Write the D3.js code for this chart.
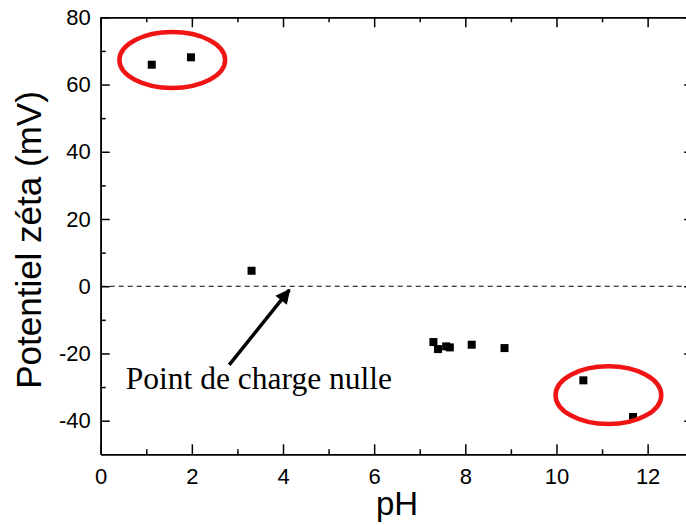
<!DOCTYPE html>
<html><head><meta charset="utf-8">
<script src="https://cdn.jsdelivr.net/npm/d3@7"></script>
<style>
html,body{margin:0;padding:0;background:#fff;overflow:hidden;}
svg{display:block;}
</style></head>
<body>
<svg id="chart" width="686" height="525"></svg>
<script>
// ---- data ----
const ph   = [1.12, 1.98, 3.31, 7.30, 7.40, 7.58, 7.66, 8.14, 8.86, 10.59, 11.68];
const zeta = [65.9, 68.1, 4.6, -16.6, -18.7, -17.9, -18.2, -17.4, -18.4, -28.0, -38.9];
const xTicks = [0, 2, 4, 6, 8, 10, 12];
const xMinor = [1, 3, 5, 7, 9, 11, 13];
const yTicks = [-40, -20, 0, 20, 40, 60, 80];
const yMinor = [-30, -10, 10, 30, 50, 70];
const circledGroups = [ {cx: 1.57, cy: 67.3, rx: 1.16, ry: 8.3}, {cx: 11.14, cy: -32.4, rx: 1.16, ry: 8.6} ];
const pzcLabel = "Point de charge nulle";
const pzcArrow = {x0: 2.82, y0: -23.4, x1: 4.14, y1: -1.1};
const pzcText = {x: 0.55, y: -30.5};
const xTitle = "pH";
const yTitle = "Potentiel zéta (mV)";

// ---- layout ----
const svg = d3.select("#chart");
const L = 100.7, T = 17.3, R = 693.2, B = 454.3;
const x = d3.scaleLinear().domain([0, 13]).range([L, R]);
const y = d3.scaleLinear().domain([-50, 80]).range([B, T]);
const sans = "'Liberation Sans', Arial, sans-serif";
const fmt = d => String(d);

// dashed zero line
svg.append("line")
  .attr("x1", x(0)).attr("x2", x(13))
  .attr("y1", y(0)).attr("y2", y(0))
  .attr("stroke", "#000").attr("stroke-width", 1.1)
  .attr("stroke-dasharray", "5,4");

function styleAxis(g, showText) {
  g.select(".domain").attr("stroke", "#000").attr("stroke-width", 1.6);
  g.selectAll(".tick line").attr("stroke", "#000").attr("stroke-width", 1.5);
  g.selectAll("text").attr("fill", "#000")
    .style("font-family", sans).style("font-size", "22px");
  if (!showText) g.selectAll("text").remove();
}

// bottom
const gB = svg.append("g").attr("transform", `translate(0,${B})`)
  .call(d3.axisBottom(x).tickValues(xTicks).tickSize(-10).tickSizeOuter(0).tickPadding(14).tickFormat(fmt));
styleAxis(gB, true);
const gBm = svg.append("g").attr("transform", `translate(0,${B})`)
  .call(d3.axisBottom(x).tickValues(xMinor).tickSize(-5).tickSizeOuter(0).tickFormat(""));
styleAxis(gBm, false);
// top
const gT = svg.append("g").attr("transform", `translate(0,${T})`)
  .call(d3.axisTop(x).tickValues(xTicks).tickSize(-10).tickSizeOuter(0).tickFormat(""));
styleAxis(gT, false);
const gTm = svg.append("g").attr("transform", `translate(0,${T})`)
  .call(d3.axisTop(x).tickValues(xMinor).tickSize(-5).tickSizeOuter(0).tickFormat(""));
styleAxis(gTm, false);
// left
const gL = svg.append("g").attr("transform", `translate(${L},0)`)
  .call(d3.axisLeft(y).tickValues(yTicks).tickSize(-9).tickSizeOuter(0).tickPadding(10).tickFormat(fmt));
styleAxis(gL, true);
const gLm = svg.append("g").attr("transform", `translate(${L},0)`)
  .call(d3.axisLeft(y).tickValues(yMinor).tickSize(-5).tickSizeOuter(0).tickFormat(""));
styleAxis(gLm, false);
// right
const gR = svg.append("g").attr("transform", `translate(${R},0)`)
  .call(d3.axisRight(y).tickValues(yTicks).tickSize(-9).tickSizeOuter(0).tickFormat(""));
styleAxis(gR, false);
const gRm = svg.append("g").attr("transform", `translate(${R},0)`)
  .call(d3.axisRight(y).tickValues(yMinor).tickSize(-5).tickSizeOuter(0).tickFormat(""));
styleAxis(gRm, false);

// titles
svg.append("text").attr("x", 397).attr("y", 515)
  .attr("text-anchor", "middle").style("font-family", sans).style("font-size", "33px")
  .text(xTitle);
svg.append("text").attr("transform", "translate(41,240) rotate(-90)")
  .attr("text-anchor", "middle").style("font-family", sans).style("font-size", "35px")
  .text(yTitle);

// points
const pts = ph.map((v, i) => ({x: v, y: zeta[i]}));
const s = 8;
svg.append("g").selectAll("rect").data(pts).join("rect")
  .attr("x", d => x(d.x) - s / 2).attr("y", d => y(d.y) - s / 2)
  .attr("width", s).attr("height", s).attr("fill", "#000");

// red ellipses
svg.append("g").selectAll("ellipse").data(circledGroups).join("ellipse")
  .attr("cx", d => x(d.cx)).attr("cy", d => y(d.cy))
  .attr("rx", d => x(d.cx + d.rx) - x(d.cx)).attr("ry", d => y(d.cy - d.ry) - y(d.cy))
  .attr("fill", "none").attr("stroke", "#f01414").attr("stroke-width", 4.5);

// arrow
svg.append("defs").append("marker")
  .attr("id", "ah").attr("viewBox", "0 0 10 10").attr("refX", 9).attr("refY", 5)
  .attr("markerWidth", 4.5).attr("markerHeight", 4.2).attr("markerUnits", "strokeWidth")
  .attr("orient", "auto")
  .append("path").attr("d", "M0,0 L10,5 L0,10 Z").attr("fill", "#000");
svg.append("line")
  .attr("x1", x(pzcArrow.x0)).attr("y1", y(pzcArrow.y0))
  .attr("x2", x(pzcArrow.x1)).attr("y2", y(pzcArrow.y1))
  .attr("stroke", "#000").attr("stroke-width", 3.5).attr("marker-end", "url(#ah)");

svg.append("text").attr("x", x(pzcText.x)).attr("y", y(pzcText.y))
  .style("font-family", "'Liberation Serif', 'Times New Roman', serif").style("font-size", "31.5px")
  .text(pzcLabel);
</script>
</body></html>
